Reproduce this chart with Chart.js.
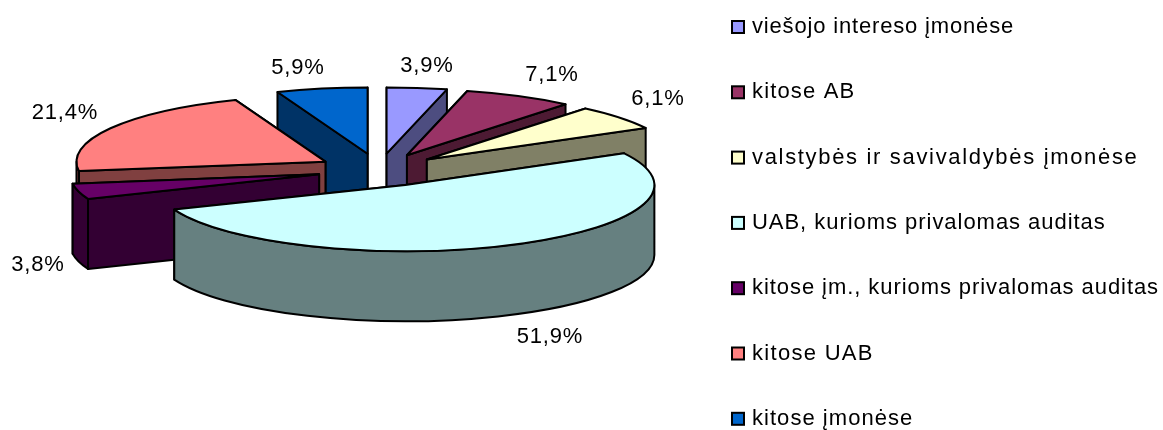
<!DOCTYPE html>
<html><head><meta charset="utf-8">
<style>html,body{margin:0;padding:0;background:#fff}#w{width:1163px;height:430px;position:relative}</style>
<script src="https://cdn.jsdelivr.net/npm/chart.js@4"></script></head>
<body><div id="w"><canvas id="c" width="1163" height="430"></canvas></div>
<script>
const categories = ['viešojo intereso įmonėse','kitose AB','valstybės ir savivaldybės įmonėse','UAB, kurioms privalomas auditas','kitose įm., kurioms privalomas auditas','kitose UAB','kitose įmonėse'];
const values = [3.9,7.1,6.1,51.9,3.8,21.4,5.9];
const valueLabels = ['3,9%','7,1%','6,1%','51,9%','3,8%','21,4%','5,9%'];
const topColors = ['#9999FF','#993366','#FFFFCC','#CCFFFF','#660066','#FF8080','#0066CC'];
const wallColors = ['#4D4D80','#4D1A33','#808066','#668080','#330033','#804040','#003366'];
const paintOrder = [6,5,0,1,2,4,3];
const labelTargets = [[427,66],[552,75],[658,99],[550,337],[38,265],[65,113],[298,68]];
const legendTracking = [0.83,1.15,1.67,0.96,0.93,1.3,1.04];

const view = {cx:379, cy:170, squash:0.266, depth:70, explode:62};
const legendBox = {x:732, firstY:27, step:65.3, box:12, textX:752};
const fontSpec = '22px "Liberation Sans", Arial, sans-serif';

const pie3d = {
  id:'pie3d',
  beforeDatasetsDraw(chart){
    const ctx = chart.ctx, arcs = chart.getDatasetMeta(0).data;
    const k = view.squash, D = view.depth;
    ctx.save();
    ctx.lineWidth = 2; ctx.strokeStyle = '#000'; ctx.lineJoin = 'round';
    paintOrder.forEach(i => {
      const a = arcs[i], s = a.startAngle, e = a.endAngle, R = a.outerRadius, mid = (s+e)/2;
      const tx = view.cx + Math.cos(mid)*view.explode;
      const ty = view.cy + Math.sin(mid)*view.explode*k;
      const P = t => [tx+Math.cos(t)*R, ty+Math.sin(t)*R*k];
      const face = (p,q) => {
        ctx.beginPath(); ctx.moveTo(p[0],p[1]); ctx.lineTo(q[0],q[1]);
        ctx.lineTo(q[0],q[1]+D); ctx.lineTo(p[0],p[1]+D); ctx.closePath();
        ctx.fillStyle = wallColors[i]; ctx.fill(); ctx.stroke();
      };
      [P(s),P(e)].sort((m,n) => m[1]-n[1]).forEach(q => face([tx,ty],q));
      [0,Math.PI*2,-Math.PI*2].forEach(w => {
        const a0 = Math.max(s, w), a1 = Math.min(e, w+Math.PI);
        if (a1 <= a0) return;
        ctx.beginPath();
        ctx.ellipse(tx,ty,R,R*k,0,a0,a1,false);
        ctx.ellipse(tx,ty+D,R,R*k,0,a1,a0,true);
        ctx.closePath();
        ctx.fillStyle = wallColors[i]; ctx.fill(); ctx.stroke();
      });
      ctx.beginPath(); ctx.moveTo(tx,ty);
      ctx.ellipse(tx,ty,R,R*k,0,s,e,false);
      ctx.closePath();
      ctx.fillStyle = a.options.backgroundColor; ctx.fill(); ctx.stroke();
    });
    ctx.restore();
    ctx.save();
    ctx.fillStyle = '#000';
    ctx.font = fontSpec;
    ctx.letterSpacing = '0.83px';
    ctx.textAlign = 'center'; ctx.textBaseline = 'middle';
    valueLabels.forEach((t,i) => ctx.fillText(t,labelTargets[i][0],labelTargets[i][1]));
    ctx.textAlign = 'left';
    ctx.lineWidth = 2; ctx.strokeStyle = '#000';
    categories.forEach((t,i) => {
      const y = legendBox.firstY + i*legendBox.step;
      ctx.fillStyle = topColors[i];
      ctx.fillRect(legendBox.x, y-6, legendBox.box, legendBox.box);
      ctx.strokeRect(legendBox.x, y-6, legendBox.box, legendBox.box);
      ctx.fillStyle = '#000';
      ctx.letterSpacing = legendTracking[i] + 'px';
      ctx.fillText(t, legendBox.textX, y);
    });
    ctx.restore();
    return false;
  }
};

new Chart(document.getElementById('c'), {
  type:'pie',
  data:{labels:categories, datasets:[{data:values, backgroundColor:topColors, borderWidth:0, radius:249}]},
  options:{responsive:false, animation:false, plugins:{legend:{display:false}, tooltip:{enabled:false}}},
  plugins:[pie3d]
});
</script></body></html>
